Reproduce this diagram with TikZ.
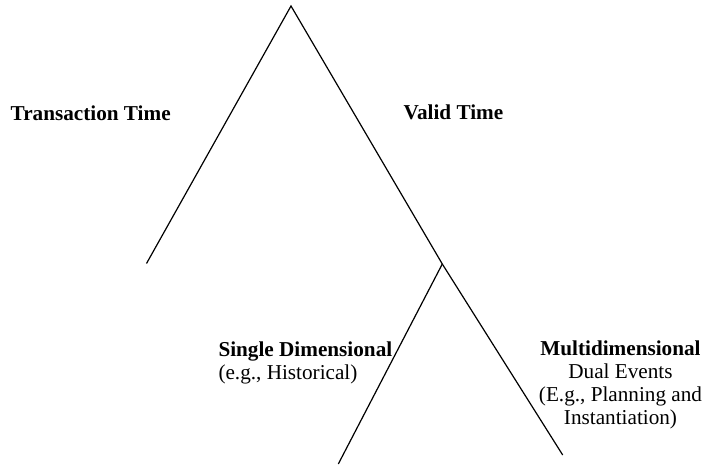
\documentclass[tikz,border=0pt]{standalone}
\usepackage{fontspec}
\setmainfont{Liberation Serif}
\usetikzlibrary{positioning}

\begin{document}
\begin{tikzpicture}[
                x=1pt,y=-1pt,
                every node/.style={inner sep=0pt,font=\fontsize{21.2}{22.7}\selectfont},
                branch/.style={line width=1.2pt,line join=miter}
            ]
                \useasboundingbox (0,0) rectangle (704,465);
                \coordinate (top)    at (291,6);
                \coordinate (ttend)  at (146.5,263.5);
                \coordinate (fork)   at (442.3,264);
                \coordinate (sdend)  at (338.3,464);
                \coordinate (mdend)  at (562.7,455);
                \draw[branch] (ttend) -- (top) -- (fork) -- (mdend);
                \draw[branch] (fork) -- (sdend);
                \node[anchor=base west] (tt) at (10.5,120.5) {\textbf{Transaction Time}};
                \node[anchor=base west] (vt) at (403.5,120)  {\textbf{Valid Time}};
                \node[anchor=base west,align=left] (sd) at (218.3,379.5)
                    {\textbf{Single Dimensional}\\(e.g., Historical)};
                \node[anchor=base,align=center] (md) at (620.5,424)
                    {\textbf{Multidimensional}\\Dual Events\\(E.g., Planning and\\Instantiation)};
            \end{tikzpicture}
\end{document}
